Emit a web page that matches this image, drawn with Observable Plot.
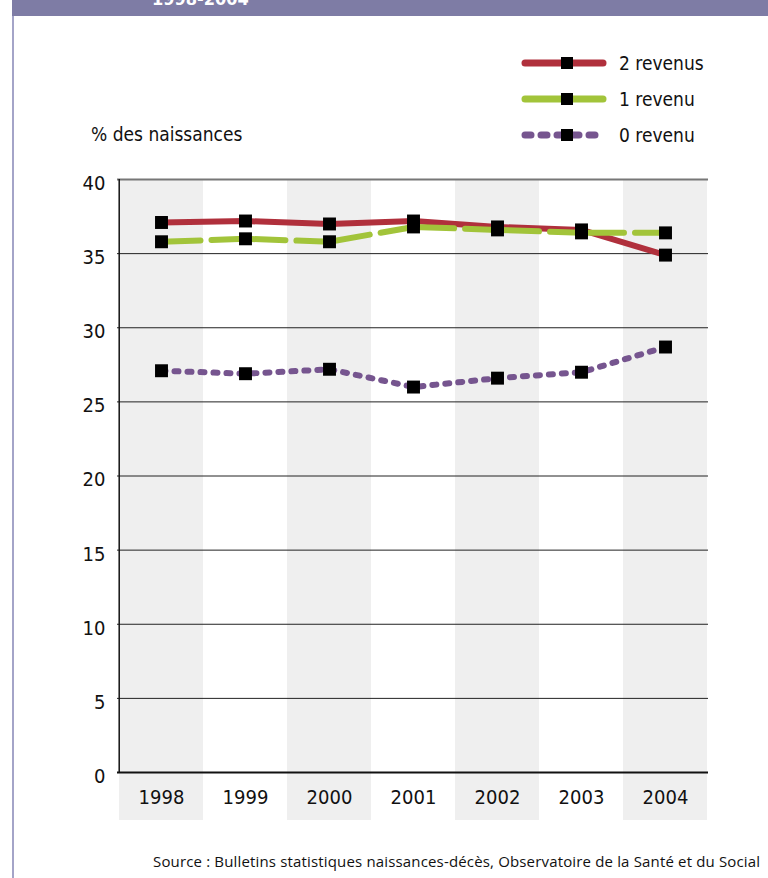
<!DOCTYPE html>
<html>
<head>
<meta charset="utf-8">
<script src="https://cdn.jsdelivr.net/npm/d3@7"></script>
<script src="https://cdn.jsdelivr.net/npm/@observablehq/plot@0.6"></script>
<style>
  html, body { margin: 0; padding: 0; background: #fff; }
  #page { position: relative; width: 768px; height: 878px; overflow: hidden; font-family: "Liberation Sans Narrow", "DejaVu Sans Condensed", sans-serif; }
  #chart { position: absolute; left: 0; top: 0; }
  #bar { position: absolute; left: 12px; top: 0; width: 756px; height: 16px; background: #7e7ca5; overflow: hidden; z-index: 2; }
  #bar span { position: absolute; left: 140px; top: -12px; color: #fff; font-weight: bold; font-size: 18px; white-space: nowrap; }
  #border { position: absolute; left: 12px; top: 16px; width: 2px; height: 862px; background: #a4a4c8; z-index: 2; }
  #ylabel { position: absolute; left: 91px; top: 123px; font-size: 19px; color: #111; z-index: 2; }
  #legend { position: absolute; left: 515px; top: 45px; z-index: 2; }
  .item { display: flex; align-items: center; height: 36px; font-size: 19px; color: #111; }
  .item svg { margin-right: 10px; }
  #source { position: absolute; left: 153px; top: 851px; font-family: "Open Sans", sans-serif; font-size: 15px; letter-spacing: 0.16px; color: #111; white-space: nowrap; z-index: 2; }
</style>
</head>
<body>
<div id="page">
  <div id="chart"></div>
  <div id="bar"><span>1998-2004</span></div>
  <div id="border"></div>
  <div id="ylabel">% des naissances</div>
  <div id="legend"></div>
  <div id="source">Source : Bulletins statistiques naissances-décès, Observatoire de la Santé et du Social</div>
</div>
<script>
const years = ["1998", "1999", "2000", "2001", "2002", "2003", "2004"];
const deuxRevenus = [37.1, 37.2, 37.0, 37.2, 36.8, 36.6, 34.9];
const unRevenu = [35.8, 36.0, 35.8, 36.8, 36.6, 36.4, 36.4];
const zeroRevenu = [27.1, 26.9, 27.2, 26.0, 26.6, 27.0, 28.7];
const yTicks = [0, 5, 10, 15, 20, 25, 30, 35, 40];
const seriesNames = ["2 revenus", "1 revenu", "0 revenu"];

const colors = { "2 revenus": "#b0303c", "1 revenu": "#a2c43a", "0 revenu": "#76558f" };
const dashes = { "2 revenus": null, "1 revenu": "74,11", "0 revenu": "4,9" };
const offsets = { "2 revenus": 0, "1 revenu": 35, "0 revenu": 0 };

const seriesValues = [deuxRevenus, unRevenu, zeroRevenu];
const rows = seriesNames.flatMap((s, i) => years.map((y, j) => ({ serie: s, year: y, value: seriesValues[i][j] })));
const shaded = years.filter((_, i) => i % 2 === 0);
const inner = yTicks.filter(t => t > 0 && t < 40);

const font = '"Liberation Sans Narrow", "DejaVu Sans Condensed", sans-serif';

const plot = Plot.plot({
  width: 768,
  height: 878,
  marginTop: 179,
  marginBottom: 106,
  marginLeft: 117,
  marginRight: 60,
  style: { fontFamily: font, background: "transparent", color: "#111" },
  x: { type: "band", domain: years, padding: 0, axis: null },
  y: { domain: [0, 40], axis: null },
  marks: [
    Plot.barY(shaded, { x: d => d, y1: 0, y2: 40, fill: "#efefef", insetBottom: -48 }),
    Plot.ruleY(inner, { stroke: "#222", strokeWidth: 1 }),
    Plot.ruleY([40], { stroke: "#777", strokeWidth: 2 }),
    Plot.ruleX([years[0]], { y1: 0, y2: 40, stroke: "#111", strokeWidth: 1.5, dx: -42.3 }),
    Plot.ruleY([0], { stroke: "#111", strokeWidth: 2 }),
    Plot.axisX({ tickSize: 0, tickPadding: 17, fontSize: 20, fill: "#111", label: null }),
    Plot.axisY({ ticks: yTicks, tickSize: 0, tickPadding: 12, fontSize: 20, dy: 4, fill: "#111", label: null }),
    ...seriesNames.map(s => Plot.line(rows.filter(r => r.serie === s), {
      x: "year", y: "value", stroke: colors[s], strokeWidth: 6,
      strokeLinecap: "round", strokeLinejoin: "round",
      strokeDasharray: dashes[s], strokeDashoffset: offsets[s]
    })),
    Plot.dot(rows, { x: "year", y: "value", symbol: "square", r: 7.3, fill: "#000", stroke: null })
  ]
});
document.getElementById("chart").appendChild(plot);

// legend
const legend = document.getElementById("legend");
seriesNames.forEach(s => {
  const item = document.createElement("div");
  item.className = "item";
  const ns = "http://www.w3.org/2000/svg";
  const svg = document.createElementNS(ns, "svg");
  svg.setAttribute("width", 94);
  svg.setAttribute("height", 20);
  const line = document.createElementNS(ns, "line");
  line.setAttribute("x1", 10); line.setAttribute("x2", 88);
  line.setAttribute("y1", 10); line.setAttribute("y2", 10);
  line.setAttribute("stroke", colors[s]);
  line.setAttribute("stroke-width", 7);
  line.setAttribute("stroke-linecap", "round");
  if (s === "0 revenu") line.setAttribute("stroke-dasharray", "6,10");
  svg.appendChild(line);
  const sq = document.createElementNS(ns, "rect");
  sq.setAttribute("x", 46); sq.setAttribute("y", 4);
  sq.setAttribute("width", 12); sq.setAttribute("height", 12);
  sq.setAttribute("fill", "#000");
  svg.appendChild(sq);
  item.appendChild(svg);
  const label = document.createElement("span");
  label.textContent = s;
  item.appendChild(label);
  legend.appendChild(item);
});
</script>
</body>
</html>
